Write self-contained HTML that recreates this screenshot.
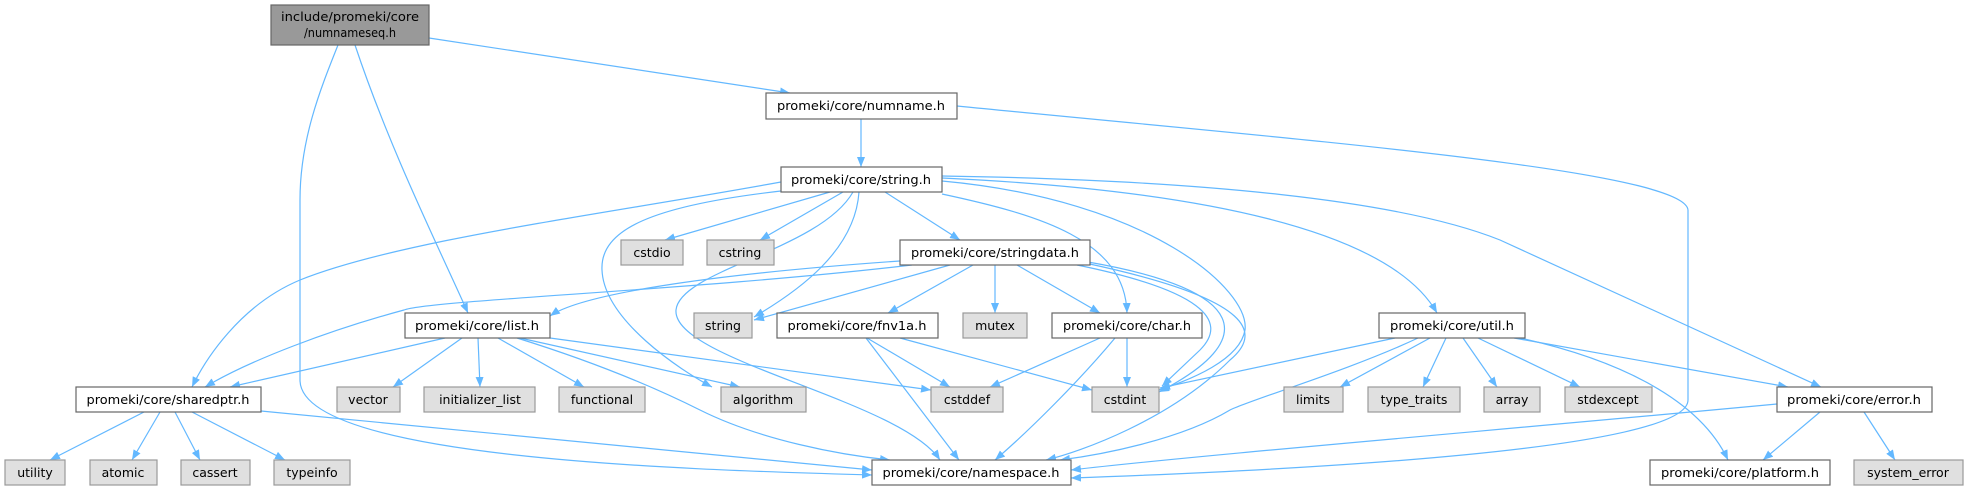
<!DOCTYPE html>
<html><head><meta charset="utf-8"><style>
html,body{margin:0;padding:0;background:#fff;}
svg{display:block}
text{font-family:"DejaVu Sans","Liberation Sans",sans-serif;font-size:12.5px;fill:#000;}
.n rect{fill:#fff;stroke:#666;stroke-width:1.2}
.g rect{fill:#e0e0e0;stroke:#999;stroke-width:1.2}
path.e{fill:none;stroke:#63b8ff;stroke-width:1.2}
</style></head><body>
<svg width="1968" height="491" viewBox="0 0 1968 491" xmlns="http://www.w3.org/2000/svg">
<defs><marker id="a" markerUnits="userSpaceOnUse" markerWidth="11" markerHeight="8" refX="10" refY="4" orient="auto"><path d="M0,0 L10,4 L0,8 z" fill="#63b8ff"/></marker></defs>
<g marker-end="url(#a)">
<path class="e" d="M429,38 L790,93"/>
<path class="e" d="M355,45 C390,150 440,250 468,313"/>
<path class="e" d="M338,45 C320,90 300,140 300,200 L300,380 C300,460 700,470 872,475"/>
<path class="e" d="M861,119 L861,167"/>
<path class="e" d="M957,106 C1300,140 1685,170 1688,210 L1688,400 C1688,450 1300,470 1071,478"/>
<path class="e" d="M830,192 L665,240"/>
<path class="e" d="M843,192 L760,240"/>
<path class="e" d="M885,192 L960,240"/>
<path class="e" d="M942,194 C1040,215 1125,240 1127,313"/>
<path class="e" d="M942,181 C1150,200 1250,290 1245,330 C1240,360 1190,380 1159,390"/>
<path class="e" d="M942,178 C1200,190 1390,230 1437,313"/>
<path class="e" d="M942,176 C1200,180 1400,200 1500,240 L1821,387"/>
<path class="e" d="M781,182 C600,215 400,240 300,280 C240,305 205,360 192,387"/>
<path class="e" d="M790,190 C650,205 600,230 602,270 C604,320 680,370 712,387"/>
<path class="e" d="M859,192 C855,250 800,290 754,317"/>
<path class="e" d="M853,192 C820,250 680,270 676,310 C672,360 900,400 940,460"/>
<path class="e" d="M900,261 C700,275 580,295 550,316"/>
<path class="e" d="M912,265 C700,290 430,300 404,310 C330,330 250,360 205,387"/>
<path class="e" d="M950,265 L754,320"/>
<path class="e" d="M973,265 L888,313"/>
<path class="e" d="M995,265 L995,313"/>
<path class="e" d="M1017,265 L1100,313"/>
<path class="e" d="M1077,265 C1200,290 1230,320 1200,350 L1162,386"/>
<path class="e" d="M1088,262 C1250,290 1260,340 1159,392"/>
<path class="e" d="M1085,263 C1260,300 1260,335 1230,360 C1170,420 1080,452 1046,460"/>
<path class="e" d="M445,338 L230,387"/>
<path class="e" d="M462,338 L393,387"/>
<path class="e" d="M478,338 L480,387"/>
<path class="e" d="M498,338 L584,387"/>
<path class="e" d="M520,338 L740,387"/>
<path class="e" d="M550,338 L931,390"/>
<path class="e" d="M517,338 C620,370 680,400 700,410 C760,440 840,455 890,460"/>
<path class="e" d="M867,338 L950,387"/>
<path class="e" d="M900,338 L1092,390"/>
<path class="e" d="M866,338 L959,460"/>
<path class="e" d="M1100,338 L990,387"/>
<path class="e" d="M1127,338 L1127,387"/>
<path class="e" d="M1115,338 C1080,380 1030,430 995,460"/>
<path class="e" d="M1395,338 L1160,388"/>
<path class="e" d="M1418,338 C1350,370 1250,400 1230,410 C1180,440 1100,455 1060,460"/>
<path class="e" d="M1430,338 L1340,387"/>
<path class="e" d="M1446,338 L1423,387"/>
<path class="e" d="M1463,338 L1497,387"/>
<path class="e" d="M1478,338 L1580,387"/>
<path class="e" d="M1514,338 L1788,387"/>
<path class="e" d="M1520,338 C1620,360 1700,400 1728,460"/>
<path class="e" d="M1777,404 C1500,430 1200,455 1071,470"/>
<path class="e" d="M1820,412 L1763,460"/>
<path class="e" d="M1864,412 L1895,460"/>
<path class="e" d="M144,412 L50,460"/>
<path class="e" d="M160,412 L132,460"/>
<path class="e" d="M175,412 L200,460"/>
<path class="e" d="M192,412 L285,460"/>
<path class="e" d="M261,411 C500,435 700,455 872,470"/>
</g>
<g><rect x="271" y="5" width="158" height="40" fill="#999" stroke="#666" stroke-width="1.2"/>
<text x="350" y="21" text-anchor="middle" textLength="138" lengthAdjust="spacingAndGlyphs">include/promeki/core</text>
<text x="350" y="37" text-anchor="middle" textLength="92" lengthAdjust="spacingAndGlyphs">/numnameseq.h</text></g>
<g class="n"><rect x="766" y="93" width="191" height="26"/><text x="861" y="110" text-anchor="middle" textLength="168" lengthAdjust="spacingAndGlyphs">promeki/core/numname.h</text></g>
<g class="n"><rect x="781" y="167" width="161" height="25"/><text x="861" y="184" text-anchor="middle" textLength="140" lengthAdjust="spacingAndGlyphs">promeki/core/string.h</text></g>
<g class="g"><rect x="621" y="240" width="62" height="25"/><text x="652" y="257" text-anchor="middle">cstdio</text></g>
<g class="g"><rect x="707" y="240" width="67" height="25"/><text x="740" y="257" text-anchor="middle">cstring</text></g>
<g class="n"><rect x="900" y="240" width="190" height="25"/><text x="995" y="257" text-anchor="middle" textLength="168" lengthAdjust="spacingAndGlyphs">promeki/core/stringdata.h</text></g>
<g class="n"><rect x="405" y="313" width="145" height="25"/><text x="477" y="330" text-anchor="middle" textLength="124" lengthAdjust="spacingAndGlyphs">promeki/core/list.h</text></g>
<g class="g"><rect x="694" y="313" width="58" height="25"/><text x="723" y="330" text-anchor="middle">string</text></g>
<g class="n"><rect x="777" y="313" width="161" height="25"/><text x="857" y="330" text-anchor="middle" textLength="139" lengthAdjust="spacingAndGlyphs">promeki/core/fnv1a.h</text></g>
<g class="g"><rect x="963" y="313" width="64" height="25"/><text x="995" y="330" text-anchor="middle">mutex</text></g>
<g class="n"><rect x="1052" y="313" width="150" height="25"/><text x="1127" y="330" text-anchor="middle" textLength="128" lengthAdjust="spacingAndGlyphs">promeki/core/char.h</text></g>
<g class="n"><rect x="1379" y="313" width="146" height="25"/><text x="1452" y="330" text-anchor="middle" textLength="124" lengthAdjust="spacingAndGlyphs">promeki/core/util.h</text></g>
<g class="n"><rect x="76" y="387" width="185" height="25"/><text x="168" y="404" text-anchor="middle" textLength="163" lengthAdjust="spacingAndGlyphs">promeki/core/sharedptr.h</text></g>
<g class="g"><rect x="337" y="387" width="63" height="25"/><text x="368" y="404" text-anchor="middle">vector</text></g>
<g class="g"><rect x="424" y="387" width="111" height="25"/><text x="480" y="404" text-anchor="middle">initializer_list</text></g>
<g class="g"><rect x="559" y="387" width="86" height="25"/><text x="602" y="404" text-anchor="middle">functional</text></g>
<g class="g"><rect x="721" y="387" width="85" height="25"/><text x="763" y="404" text-anchor="middle">algorithm</text></g>
<g class="g"><rect x="931" y="387" width="72" height="25"/><text x="967" y="404" text-anchor="middle">cstddef</text></g>
<g class="g"><rect x="1092" y="387" width="67" height="25"/><text x="1125" y="404" text-anchor="middle">cstdint</text></g>
<g class="g"><rect x="1284" y="387" width="59" height="25"/><text x="1313" y="404" text-anchor="middle">limits</text></g>
<g class="g"><rect x="1368" y="387" width="92" height="25"/><text x="1414" y="404" text-anchor="middle">type_traits</text></g>
<g class="g"><rect x="1484" y="387" width="56" height="25"/><text x="1512" y="404" text-anchor="middle">array</text></g>
<g class="g"><rect x="1565" y="387" width="87" height="25"/><text x="1608" y="404" text-anchor="middle">stdexcept</text></g>
<g class="n"><rect x="1777" y="387" width="155" height="25"/><text x="1854" y="404" text-anchor="middle" textLength="134" lengthAdjust="spacingAndGlyphs">promeki/core/error.h</text></g>
<g class="g"><rect x="5" y="460" width="60" height="25"/><text x="35" y="477" text-anchor="middle">utility</text></g>
<g class="g"><rect x="90" y="460" width="67" height="25"/><text x="123" y="477" text-anchor="middle">atomic</text></g>
<g class="g"><rect x="181" y="460" width="69" height="25"/><text x="215" y="477" text-anchor="middle">cassert</text></g>
<g class="g"><rect x="274" y="460" width="76" height="25"/><text x="312" y="477" text-anchor="middle">typeinfo</text></g>
<g class="n"><rect x="872" y="460" width="199" height="25"/><text x="971" y="477" text-anchor="middle" textLength="177" lengthAdjust="spacingAndGlyphs">promeki/core/namespace.h</text></g>
<g class="n"><rect x="1650" y="460" width="180" height="25"/><text x="1740" y="477" text-anchor="middle" textLength="158" lengthAdjust="spacingAndGlyphs">promeki/core/platform.h</text></g>
<g class="g"><rect x="1854" y="460" width="109" height="25"/><text x="1908" y="477" text-anchor="middle">system_error</text></g>
</svg>
</body></html>
